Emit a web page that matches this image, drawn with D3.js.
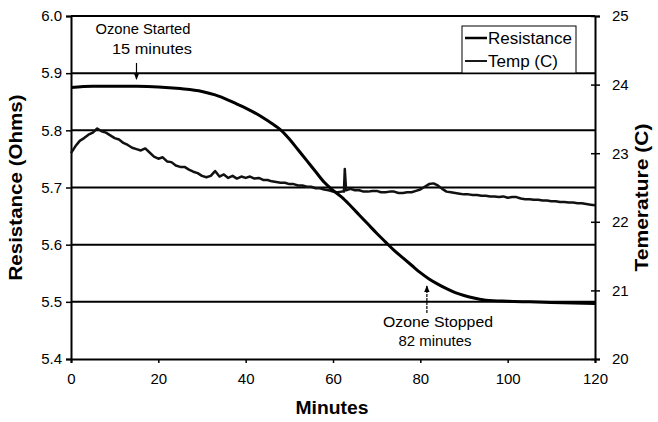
<!DOCTYPE html>
<html>
<head>
<meta charset="utf-8">
<script src="https://cdn.jsdelivr.net/npm/d3@7"></script>
<style>
  html, body { margin: 0; padding: 0; background: #fff; }
  svg { display: block; font-family: "Liberation Sans", Arial, sans-serif; }
</style>
</head>
<body>
<svg id="chart" width="658" height="422"></svg>
<script>
// ---- Data ----
const resMinutes = [0, 5, 10, 15, 20, 25, 30, 33, 36, 38, 40, 42, 44, 46, 48, 50, 52, 54, 56, 58, 60, 62, 64, 66, 68, 70, 72, 74, 76, 78, 80, 82, 84, 86, 88, 90, 92, 95, 100, 105, 110, 115, 120];
const resistance = [5.875, 5.877, 5.877, 5.877, 5.876, 5.873, 5.868, 5.862, 5.853, 5.846, 5.839, 5.831, 5.822, 5.812, 5.801, 5.785, 5.766, 5.747, 5.728, 5.709, 5.695, 5.683, 5.668, 5.652, 5.636, 5.620, 5.605, 5.590, 5.577, 5.564, 5.551, 5.540, 5.531, 5.523, 5.516, 5.511, 5.507, 5.503, 5.501, 5.500, 5.499, 5.498, 5.497];

const tempMinutes = [0, 1, 2, 3, 4, 5, 6, 7, 8, 9, 10, 11, 12, 13, 14, 15, 16, 17, 18, 19, 20, 21, 22, 23, 24, 25, 26, 27, 28, 29, 30, 31, 32, 33, 34, 35, 36, 37, 38, 39, 40, 41, 42, 43, 44, 45, 46, 47, 48, 49, 50, 51, 52, 53, 54, 55, 56, 57, 58, 59, 60, 61, 62, 62.5, 62.7, 63, 64, 65, 66, 67, 68, 69, 70, 71, 72, 73, 74, 75, 76, 77, 78, 79, 80, 81, 82, 83, 84, 85, 86, 87, 88, 89, 90, 91, 92, 93, 94, 95, 96, 97, 98, 99, 100, 101, 102, 103, 104, 105, 106, 107, 108, 109, 110, 111, 112, 113, 114, 115, 116, 117, 118, 119, 120];
const temperature = [23.00, 23.10, 23.18, 23.22, 23.27, 23.30, 23.36, 23.32, 23.30, 23.26, 23.22, 23.20, 23.15, 23.12, 23.08, 23.06, 23.04, 23.07, 23.01, 22.95, 22.92, 22.94, 22.88, 22.87, 22.82, 22.80, 22.80, 22.76, 22.73, 22.71, 22.67, 22.65, 22.67, 22.74, 22.66, 22.69, 22.64, 22.67, 22.63, 22.66, 22.64, 22.66, 22.63, 22.64, 22.61, 22.61, 22.59, 22.58, 22.57, 22.57, 22.55, 22.55, 22.53, 22.53, 22.51, 22.51, 22.49, 22.49, 22.47, 22.46, 22.44, 22.43, 22.44, 22.44, 22.77, 22.46, 22.48, 22.46, 22.46, 22.44, 22.44, 22.45, 22.45, 22.43, 22.43, 22.44, 22.44, 22.42, 22.42, 22.43, 22.43, 22.45, 22.47, 22.51, 22.55, 22.56, 22.53, 22.48, 22.44, 22.43, 22.42, 22.41, 22.40, 22.40, 22.39, 22.39, 22.38, 22.38, 22.37, 22.37, 22.36, 22.37, 22.35, 22.36, 22.36, 22.34, 22.33, 22.33, 22.32, 22.32, 22.31, 22.31, 22.30, 22.30, 22.29, 22.29, 22.28, 22.28, 22.27, 22.27, 22.26, 22.25, 22.24];

const xTicks = [0, 20, 40, 60, 80, 100, 120];
const leftTicks = [5.4, 5.5, 5.6, 5.7, 5.8, 5.9, 6.0];
const rightTicks = [20, 21, 22, 23, 24, 25];
const seriesNames = ["Resistance", "Temp (C)"];

// ---- Layout ----
const svg = d3.select("#chart");
const m = { left: 71, right: 595, top: 16, bottom: 359 };

const x = d3.scaleLinear().domain([0, 120]).range([m.left, m.right]);
const yL = d3.scaleLinear().domain([5.4, 6.0]).range([m.bottom, m.top]);
const yR = d3.scaleLinear().domain([20, 25]).range([m.bottom, m.top]);

// gridlines
svg.append("g").selectAll("line")
  .data(leftTicks.slice(1))
  .join("line")
  .attr("x1", m.left).attr("x2", m.right)
  .attr("y1", d => yL(d)).attr("y2", d => yL(d))
  .attr("stroke", "#000").attr("stroke-width", 2);

// axes
const fontSize = "15px";
const gx = svg.append("g").attr("transform", `translate(0,${m.bottom})`)
  .call(d3.axisBottom(x).tickValues(xTicks).tickSize(4).tickPadding(10).tickFormat(d3.format("d")));
const gl = svg.append("g").attr("transform", `translate(${m.left},0)`)
  .call(d3.axisLeft(yL).tickValues(leftTicks).tickSize(5).tickPadding(4).tickFormat(d3.format(".1f")));
const gr = svg.append("g").attr("transform", `translate(${m.right},0)`)
  .call(d3.axisRight(yR).tickValues(rightTicks).tickSize(5).tickPadding(12).tickFormat(d3.format("d")));
gr.selectAll(".tick line").attr("x1", -4);

[gx, gl, gr].forEach(g => {
  g.select(".domain").attr("stroke", "#000").attr("stroke-width", 2);
  g.selectAll(".tick line").attr("stroke", "#000").attr("stroke-width", 1.5);
  g.selectAll(".tick text").attr("font-size", fontSize).attr("fill", "#000")
    .attr("font-family", "'Liberation Sans', Arial, sans-serif");
});

// lines
const tempLine = d3.line().x((d, i) => x(tempMinutes[i])).y(d => yR(d));
svg.append("path").datum(temperature)
  .attr("d", tempLine).attr("fill", "none")
  .attr("stroke", "#111").attr("stroke-width", 2.5).attr("stroke-linejoin", "round");

const resLine = d3.line().x((d, i) => x(resMinutes[i])).y(d => yL(d)).curve(d3.curveMonotoneX);
svg.append("path").datum(resistance)
  .attr("d", resLine).attr("fill", "none")
  .attr("stroke", "#000").attr("stroke-width", 3);

// axis titles
svg.append("text").attr("x", 332).attr("y", 414)
  .attr("text-anchor", "middle").attr("font-size", "18px").attr("font-weight", "bold")
  .attr("textLength", 73).attr("lengthAdjust", "spacingAndGlyphs")
  .text("Minutes");
svg.append("text").attr("transform", `translate(22,${(m.top + m.bottom) / 2}) rotate(-90)`)
  .attr("text-anchor", "middle").attr("font-size", "18px").attr("font-weight", "bold")
  .attr("textLength", 186).attr("lengthAdjust", "spacingAndGlyphs")
  .text("Resistance (Ohms)");
svg.append("text").attr("transform", `translate(648,${(m.top + m.bottom) / 2 + 10}) rotate(-90)`)
  .attr("text-anchor", "middle").attr("font-size", "18px").attr("font-weight", "bold")
  .attr("textLength", 148).attr("lengthAdjust", "spacingAndGlyphs")
  .text("Temerature (C)");

// annotations
svg.append("defs").append("marker")
  .attr("id", "arrow").attr("viewBox", "0 0 10 10").attr("refX", 9).attr("refY", 5)
  .attr("markerWidth", 6).attr("markerHeight", 6).attr("orient", "auto")
  .append("path").attr("d", "M0,1L10,5L0,9Z").attr("fill", "#000");

svg.append("text").attr("x", 143).attr("y", 34).attr("text-anchor", "middle")
  .attr("font-size", "15px").attr("textLength", 95).attr("lengthAdjust", "spacingAndGlyphs")
  .text("Ozone Started");
svg.append("text").attr("x", 152).attr("y", 54).attr("text-anchor", "middle")
  .attr("font-size", "15px").attr("textLength", 80).attr("lengthAdjust", "spacingAndGlyphs")
  .text("15 minutes");
svg.append("line").attr("x1", x(15)).attr("x2", x(15)).attr("y1", 63).attr("y2", yL(5.9) + 6)
  .attr("stroke", "#000").attr("stroke-width", 1.2).attr("marker-end", "url(#arrow)");

svg.append("text").attr("x", 438).attr("y", 327).attr("text-anchor", "middle")
  .attr("font-size", "15px").attr("textLength", 110).attr("lengthAdjust", "spacingAndGlyphs")
  .text("Ozone Stopped");
svg.append("text").attr("x", 435).attr("y", 346).attr("text-anchor", "middle")
  .attr("font-size", "15px").attr("textLength", 73).attr("lengthAdjust", "spacingAndGlyphs")
  .text("82 minutes");
svg.append("line").attr("x1", x(81.5)).attr("x2", x(81.5)).attr("y1", 313).attr("y2", 286)
  .attr("stroke", "#000").attr("stroke-width", 1.2).attr("stroke-dasharray", "3,1")
  .attr("marker-end", "url(#arrow)");

// legend
const lg = svg.append("g").attr("transform", "translate(462,26)");
lg.append("rect").attr("width", 114).attr("height", 47)
  .attr("fill", "#fff").attr("stroke", "#000").attr("stroke-width", 1);
seriesNames.forEach((name, i) => {
  const yy = 12 + i * 23;
  lg.append("line").attr("x1", 3).attr("x2", 25).attr("y1", yy).attr("y2", yy)
    .attr("stroke", "#000").attr("stroke-width", i === 0 ? 2.5 : 1.8);
  lg.append("text").attr("x", 26).attr("y", yy + 6).attr("font-size", "16px")
    .attr("textLength", i === 0 ? 84 : 70).attr("lengthAdjust", "spacingAndGlyphs")
    .text(name);
});
</script>
</body>
</html>
